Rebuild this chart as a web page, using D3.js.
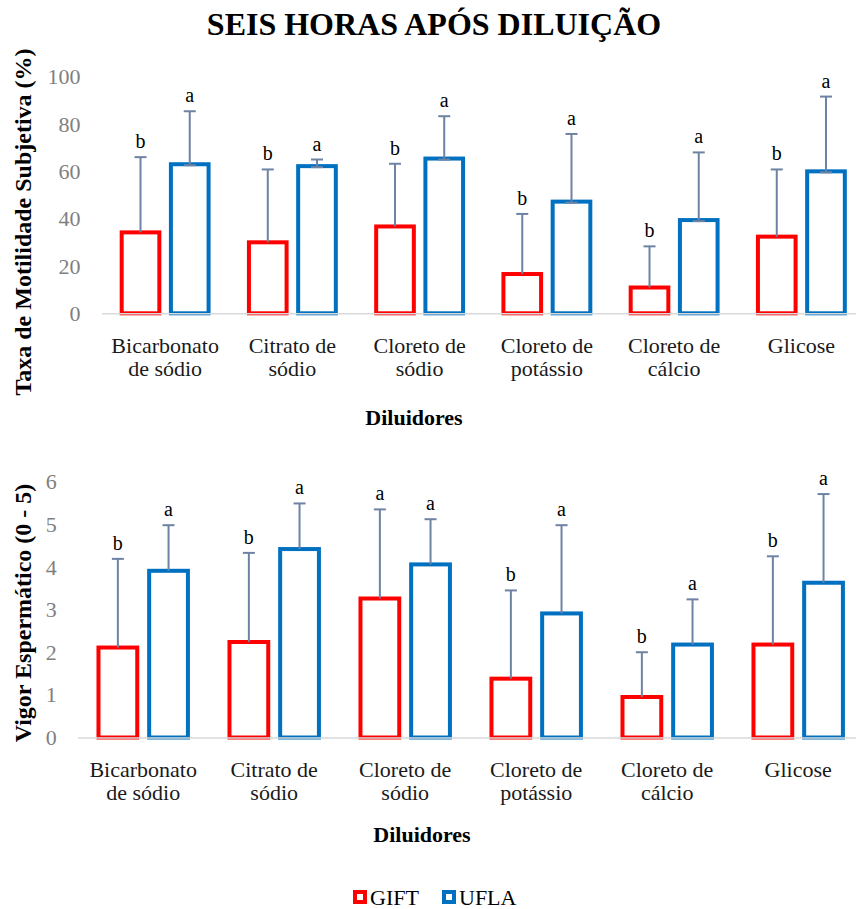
<!DOCTYPE html>
<html>
<head>
<meta charset="utf-8">
<script src="https://cdn.jsdelivr.net/npm/d3@7"></script>
<style>
  body { margin: 0; background: #fff; }
  text { font-family: "Liberation Serif", "Times New Roman", serif; }
</style>
</head>
<body>
<svg width="856" height="909"></svg>
<script>

// categories (diluidores) and how they break on two lines
var categories = ["Bicarbonato de sódio", "Citrato de sódio", "Cloreto de sódio",
                  "Cloreto de potássio", "Cloreto de cálcio", "Glicose"];
var categoryLines = [["Bicarbonato", "de sódio"], ["Citrato de", "sódio"], ["Cloreto de", "sódio"],
                     ["Cloreto de", "potássio"], ["Cloreto de", "cálcio"], ["Glicose"]];

var series = ["GIFT", "UFLA"];
var colors = ["#ff0000", "#0070c0"];

// Taxa de motilidade subjetiva (%)
var motilGIFT    = [34.2, 30.0, 36.7, 16.6, 10.9, 32.4];
var motilGIFTsd  = [31.8, 30.8, 26.5, 25.4, 17.4, 28.4];
var motilUFLA    = [63.0, 62.2, 65.4, 47.2, 39.4, 60.0];
var motilUFLAsd  = [22.4, 2.8, 17.9, 28.6, 28.6, 31.6];
var motilLetters = [["b", "b", "b", "b", "b", "b"], ["a", "a", "a", "a", "a", "a"]];
var motilTicks   = [0, 20, 40, 60, 80, 100];

// Vigor espermático (0 - 5)
var vigorGIFT    = [2.11, 2.24, 3.26, 1.38, 0.95, 2.18];
var vigorGIFTsd  = [2.08, 2.09, 2.09, 2.07, 1.05, 2.07];
var vigorUFLA    = [3.91, 4.42, 4.06, 2.91, 2.18, 3.63];
var vigorUFLAsd  = [1.07, 1.07, 1.06, 2.07, 1.06, 2.08];
var vigorLetters = [["b", "b", "a", "b", "b", "b"], ["a", "a", "a", "a", "a", "a"]];
var vigorTicks   = [0, 1, 2, 3, 4, 5, 6];

var serif = '"Liberation Serif", "Times New Roman", serif';
var svg = d3.select('svg');

svg.append('text')
  .attr('x', 434).attr('y', 35)
  .attr('text-anchor', 'middle')
  .style('font-size', '32px').style('font-weight', 'bold')
  .text('SEIS HORAS APÓS DILUIÇÃO');

function panel(cfg) {
  var x0 = d3.scaleBand().domain(categories).range(cfg.xRange).padding(0);
  var x1 = d3.scaleBand().domain(series).range([0, x0.bandwidth()])
             .paddingInner(0.235).paddingOuter(0.41);
  var y = d3.scaleLinear().domain(cfg.domain).range(cfg.yRange);

  var g = svg.append('g');

  // y axis labels
  g.append('g')
    .attr('transform', 'translate(' + cfg.xRange[0] + ',0)')
    .call(d3.axisLeft(y).tickValues(cfg.ticks).tickFormat(d3.format('d')).tickSize(0).tickPadding(21))
    .attr('font-family', serif)
    .attr('font-size', 22)
    .call(function(a){ a.select('.domain').remove(); })
    .selectAll('text')
      .attr('fill', '#7f7f7f');

  // y title
  g.append('text')
    .attr('transform', 'translate(31,' + cfg.yTitleY + ') rotate(-90)')
    .attr('text-anchor', 'middle')
    .style('font-size', '24px').style('font-weight', 'bold')
    .text(cfg.yTitle);

  // bars
  var rows = [];
  categories.forEach(function(c, i){
    series.forEach(function(s, j){
      rows.push({cat: c, s: s, j: j, v: cfg.values[j][i], sd: cfg.sd[j][i], letter: cfg.letters[j][i]});
    });
  });

  g.selectAll('rect.bar')
    .data(rows)
    .enter()
    .append('rect')
      .attr('class', 'bar')
      .attr('x', function(d){ return x0(d.cat) + x1(d.s); })
      .attr('y', function(d){ return y(d.v); })
      .attr('width', x1.bandwidth())
      .attr('height', function(d){ return y(0) - y(d.v); })
      .attr('fill', '#fff')
      .attr('stroke', function(d){ return colors[d.j]; })
      .attr('stroke-width', 4);

  // x axis line
  g.append('g')
    .attr('transform', 'translate(0,' + y(0) + ')')
    .call(d3.axisBottom(x0).tickSize(0).tickFormat(''))
    .call(function(a){
      a.select('.domain').attr('stroke', '#d9d9d9').attr('stroke-width', 1.5);
    });

  // error bars
  var eb = g.selectAll('g.err')
    .data(rows)
    .enter()
    .append('g')
      .attr('class', 'err')
      .attr('transform', function(d){ return 'translate(' + (x0(d.cat) + x1(d.s) + x1.bandwidth() / 2) + ',0)'; });

  eb.append('line')
    .attr('y1', function(d){ return y(d.v); })
    .attr('y2', function(d){ return y(d.v + d.sd); })
    .attr('stroke', '#6e82a3').attr('stroke-width', 2);
  eb.append('line')
    .attr('x1', -6).attr('x2', 6)
    .attr('y1', function(d){ return y(d.v + d.sd); })
    .attr('y2', function(d){ return y(d.v + d.sd); })
    .attr('stroke', '#6e82a3').attr('stroke-width', 2);
  if (cfg.lowCap) {
    eb.filter(function(d){ return d.j == 1; })
      .append('line')
      .attr('x1', -6).attr('x2', 6)
      .attr('y1', function(d){ return y(d.v) + 1; })
      .attr('y2', function(d){ return y(d.v) + 1; })
      .attr('stroke', '#6e82a3').attr('stroke-width', 2);
  }

  eb.append('text')
    .attr('y', function(d){ return y(d.v + d.sd) - 9; })
    .attr('text-anchor', 'middle')
    .style('font-size', '20px')
    .text(function(d){ return d.letter; });

  // category labels
  var lab = g.selectAll('text.cat')
    .data(categories)
    .enter()
    .append('text')
      .attr('class', 'cat')
      .attr('text-anchor', 'middle')
      .style('font-size', '22px')
      .attr('fill', '#1a1a1a');
  lab.selectAll('tspan')
    .data(function(d, i){ return categoryLines[i].map(function(t){ return {t: t, c: d}; }); })
    .enter()
    .append('tspan')
      .attr('x', function(d){ return x0(d.c) + x0.bandwidth() / 2; })
      .attr('y', function(d, k){ return y(0) + cfg.labelOffset + k * 23; })
      .text(function(d){ return d.t; });

  g.append('text')
    .attr('x', cfg.xTitleX).attr('y', cfg.xTitleY)
    .attr('text-anchor', 'middle')
    .style('font-size', '22px').style('font-weight', 'bold')
    .text('Diluidores');
}

panel({
  xRange: [101.5, 865], yRange: [313.3, 76.7], domain: [0, 100], ticks: motilTicks,
  values: [motilGIFT, motilUFLA], sd: [motilGIFTsd, motilUFLAsd], letters: motilLetters,
  yTitle: 'Taxa de Motilidade Subjetiva (%)', yTitleY: 222,
  labelOffset: 40, xTitleX: 414, xTitleY: 425, lowCap: true
});

panel({
  xRange: [77.7, 863.7], yRange: [737.5, 481.7], domain: [0, 6], ticks: vigorTicks,
  values: [vigorGIFT, vigorUFLA], sd: [vigorGIFTsd, vigorUFLAsd], letters: vigorLetters,
  yTitle: 'Vigor Espermático (0 - 5)', yTitleY: 613,
  labelOffset: 39, xTitleX: 422, xTitleY: 842, lowCap: false
});

// legend
var leg = svg.selectAll('g.leg')
  .data(series)
  .enter()
  .append('g')
    .attr('class', 'leg')
    .attr('transform', function(d, i){ return 'translate(' + [355, 444][i] + ',892)'; });
leg.append('rect')
  .attr('width', 10).attr('height', 10)
  .attr('fill', '#fff')
  .attr('stroke', function(d, i){ return colors[i]; })
  .attr('stroke-width', 4);
leg.append('text')
  .attr('x', 15).attr('y', 13)
  .style('font-size', '22px')
  .text(function(d){ return d; });

</script>
</body>
</html>
